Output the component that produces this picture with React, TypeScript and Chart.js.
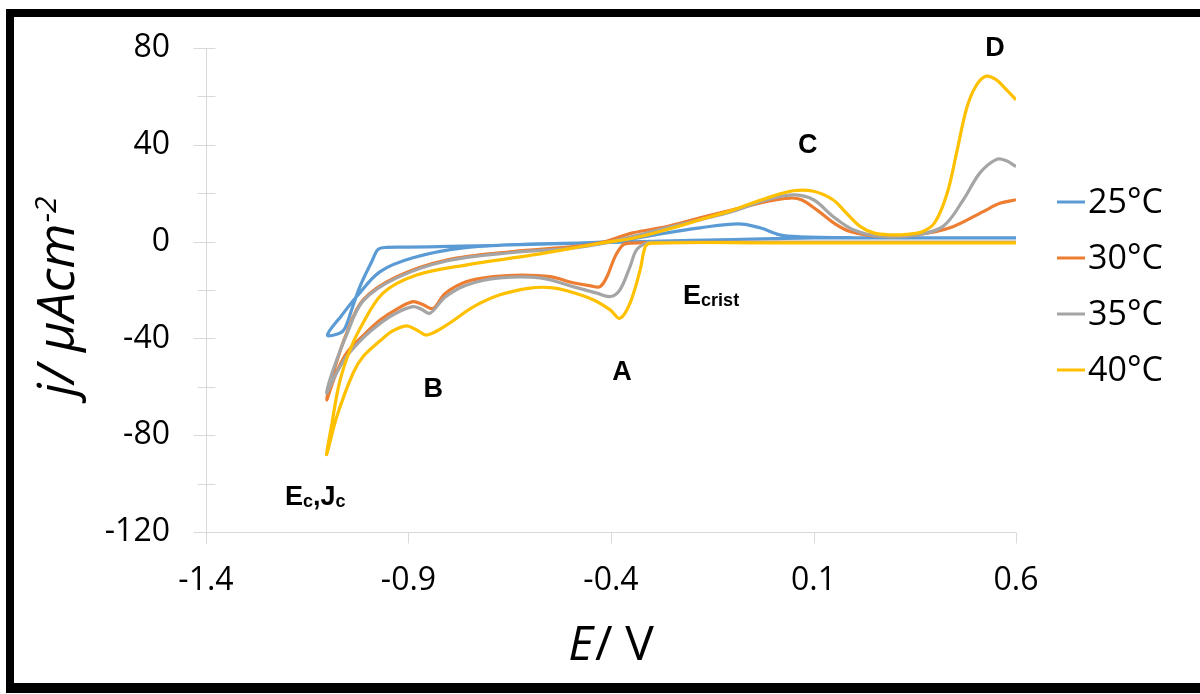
import React, { useEffect, useRef } from "react";
import { Chart, registerables } from "chart.js";

Chart.register(...registerables);

const X_MIN = -1.4;
const X_MAX = 0.6;
const Y_MIN = -120;
const Y_MAX = 80;
const X_TICKS = [-1.4, -0.9, -0.4, 0.1, 0.6];
const Y_TICKS = [-120, -80, -40, 0, 40, 80];
const Y_MINOR_TICKS = [-100, -60, -20, 20, 60];

const SERIES_LABELS = ["25°C", "30°C", "35°C", "40°C"];
const SERIES_COLORS = ["#5B9BD5", "#ED7D31", "#A5A5A5", "#FFC000"];

// 25°C
const E_25 = [0.6, 0.3, 0.1, 0.0, -0.2, -0.4, -0.6, -0.8, -0.9, -0.955, -0.975, -0.99, -1.02, -1.04, -1.057, -1.07, -1.1, -1.065, -1.028, -0.97, -0.889, -0.765, -0.6, -0.4, -0.262, -0.18, -0.086, -0.032, 0.017, 0.067, 0.2, 0.4, 0.6];
const J_25 = [1.5, 1.5, 1.5, 1.2, 0.5, -0.3, -1.2, -2.0, -2.3, -2.4, -3.2, -8, -18.6, -28, -35.8, -37.9, -38.6, -30.5, -22.7, -12.4, -6.7, -2.6, -1.0, 0.0, 3.6, 5.7, 7.3, 5.7, 2.8, 2.0, 1.6, 1.5, 1.5];

// 30°C
const E_30 = [0.6, 0.3, 0.0, -0.3, -0.35, -0.37, -0.39, -0.41, -0.427, -0.45, -0.494, -0.55, -0.62, -0.69, -0.756, -0.81, -0.839, -0.865, -0.889, -0.93, -0.97, -1.01, -1.053, -1.08, -1.102, -1.086, -1.053, -1.012, -0.929, -0.806, -0.642, -0.5, -0.427, -0.346, -0.262, -0.18, -0.1, -0.015, 0.042, 0.07, 0.109, 0.15, 0.19, 0.272, 0.355, 0.437, 0.519, 0.56, 0.6];
const J_30 = [-0.3, -0.3, -0.3, -0.4, -0.6, -1.3, -6.2, -14.5, -18.6, -18.3, -17, -14.5, -13.8, -14.5, -16.5, -21.5, -27.6, -26, -24.8, -28, -32.4, -38.5, -46.1, -55, -65.4, -54.4, -37.9, -24.1, -14.5, -7.6, -4.1, -2.2, -0.5, 3.6, 6.2, 9.8, 13.1, 16.6, 18, 17.3, 13, 7.7, 4.2, 2.1, 2.8, 5.7, 12.4, 15.8, 17.3];

// 35°C
const E_35 = [0.6, 0.3, 0.0, -0.3, -0.312, -0.337, -0.353, -0.378, -0.402, -0.435, -0.494, -0.575, -0.674, -0.756, -0.81, -0.847, -0.868, -0.889, -0.93, -0.97, -1.01, -1.053, -1.08, -1.102, -1.086, -1.053, -1.012, -0.929, -0.806, -0.642, -0.5, -0.427, -0.346, -0.262, -0.18, -0.1, -0.015, 0.05, 0.1, 0.148, 0.198, 0.27, 0.355, 0.42, 0.47, 0.511, 0.552, 0.575, 0.6];
const J_35 = [-0.3, -0.3, -0.3, -0.3, -0.5, -3.4, -10.3, -19.9, -22.7, -21.3, -18.6, -15, -15, -17.9, -23, -29.6, -28, -26.9, -29.5, -33.8, -39.5, -47.5, -55, -62.6, -53, -38.5, -24.5, -15, -8, -4.5, -2.8, -1.0, 2.1, 5.7, 9, 12.4, 17.3, 19.3, 17.3, 10.4, 4.9, 2.1, 2.8, 6.3, 17.3, 28.4, 34, 33.5, 31];

// 40°C
const E_40 = [0.6, 0.3, 0.0, -0.3, -0.315, -0.328, -0.353, -0.378, -0.402, -0.444, -0.509, -0.55, -0.6, -0.674, -0.74, -0.806, -0.855, -0.88, -0.905, -0.94, -0.97, -1.012, -1.037, -1.077, -1.102, -1.09, -1.07, -1.045, -1.02, -0.963, -0.88, -0.756, -0.593, -0.427, -0.346, -0.262, -0.18, -0.1, -0.015, 0.05, 0.1, 0.148, 0.18, 0.215, 0.25, 0.289, 0.33, 0.37, 0.4, 0.43, 0.455, 0.478, 0.5, 0.525, 0.55, 0.575, 0.6];
const J_40 = [-0.5, -0.5, -0.5, -0.6, -2, -11.7, -25.4, -31.7, -28.2, -24, -20.3, -19, -19.2, -22, -27, -34.5, -38.6, -36.5, -34.8, -37, -41, -47.5, -54.4, -72.3, -88, -76, -58, -45, -36, -21.3, -13.8, -9.6, -5.5, -0.7, 1.4, 5, 9, 13, 18, 21, 20.8, 17.3, 12, 6.3, 3.5, 2.8, 3, 4.2, 8, 20, 38, 55, 64, 68.3, 67, 63, 58.6];

const SERIES_E = [E_25, E_30, E_35, E_40];
const SERIES_J = [J_25, J_30, J_35, J_40];

type Part = { t: string; sub?: boolean };
const ANNOTATIONS: { parts: Part[]; x: number; y: number; align: "center" | "left" }[] = [
  { parts: [{ t: "D" }], x: 0.548, y: 76.8, align: "center" },
  { parts: [{ t: "C" }], x: 0.086, y: 36.7, align: "center" },
  { parts: [{ t: "A" }], x: -0.373, y: -57.2, align: "center" },
  { parts: [{ t: "B" }], x: -0.839, y: -64.2, align: "center" },
  { parts: [{ t: "E" }, { t: "crist", sub: true }], x: -0.222, y: -25.7, align: "left" },
  { parts: [{ t: "E" }, { t: "c", sub: true }, { t: "," }, { t: "J" }, { t: "c", sub: true }], x: -1.205, y: -108.9, align: "left" },
];

const AXIS_COLOR = "#d9d9d9";
const TEXT_COLOR = "#000000";

const overlayPlugin = {
  id: "overlay",
  beforeDatasetsDraw(chart: any) {
    const { ctx, chartArea, scales } = chart;
    const xs = scales.x;
    const ys = scales.y;
    ctx.save();
    ctx.strokeStyle = AXIS_COLOR;
    ctx.lineWidth = 1;
    const xl = Math.round(chartArea.left) + 0.5;
    const yb = Math.round(chartArea.bottom) + 0.5;
    ctx.beginPath();
    ctx.moveTo(xl, chartArea.top);
    ctx.lineTo(xl, yb + 11);
    ctx.moveTo(xl, yb);
    ctx.lineTo(chartArea.right, yb);
    Y_TICKS.forEach((v) => {
      const py = Math.round(ys.getPixelForValue(v)) + 0.5;
      ctx.moveTo(xl - 13, py);
      ctx.lineTo(xl + 9, py);
    });
    Y_MINOR_TICKS.forEach((v) => {
      const py = Math.round(ys.getPixelForValue(v)) + 0.5;
      ctx.moveTo(xl - 9, py);
      ctx.lineTo(xl + 9, py);
    });
    X_TICKS.forEach((v) => {
      const px = Math.round(xs.getPixelForValue(v)) + 0.5;
      ctx.moveTo(px, yb);
      ctx.lineTo(px, yb + 11);
    });
    ctx.stroke();
    ctx.restore();
  },
  afterDraw(chart: any) {
    const { ctx, scales } = chart;
    const xs = scales.x;
    const ys = scales.y;
    ctx.save();
    // annotations
    const big = "bold 27px 'Liberation Sans', Arial, sans-serif";
    const small = "bold 18px 'Liberation Sans', Arial, sans-serif";
    ctx.fillStyle = TEXT_COLOR;
    ctx.textBaseline = "alphabetic";
    ctx.textAlign = "left";
    ANNOTATIONS.forEach((a) => {
      let w = 0;
      a.parts.forEach((p) => {
        ctx.font = p.sub ? small : big;
        w += ctx.measureText(p.t).width;
      });
      let px = xs.getPixelForValue(a.x);
      const py = ys.getPixelForValue(a.y);
      if (a.align === "center") px -= w / 2;
      a.parts.forEach((p) => {
        ctx.font = p.sub ? small : big;
        ctx.fillText(p.t, px, py + (p.sub ? 2 : 0));
        px += ctx.measureText(p.t).width;
      });
    });

    // legend
    ctx.font = "34px 'Open Sans', sans-serif";
    ctx.textBaseline = "middle";
    SERIES_LABELS.forEach((lab, i) => {
      const cy = 202 + i * 56;
      ctx.strokeStyle = SERIES_COLORS[i];
      ctx.lineWidth = 3;
      ctx.beginPath();
      ctx.moveTo(1057, cy);
      ctx.lineTo(1085, cy);
      ctx.stroke();
      ctx.fillStyle = TEXT_COLOR;
      ctx.fillText(lab, 1088, cy + 1);
    });

    // x title: E/ V
    ctx.textBaseline = "alphabetic";
    const xf1 = "italic 48px 'Open Sans', sans-serif";
    const xf2 = "48px 'Open Sans', sans-serif";
    ctx.font = xf1;
    const wE = ctx.measureText("E").width;
    ctx.font = xf2;
    const wR = ctx.measureText("/ V").width;
    const sx = 610 - (wE + wR) / 2;
    ctx.font = xf1;
    ctx.fillText("E", sx, 660);
    ctx.font = xf2;
    ctx.fillText("/ V", sx + wE + 2, 660);

    // y title: j/ μAcm^-2
    ctx.translate(74, 297);
    ctx.rotate(-Math.PI / 2);
    const yf = "italic 52px 'Open Sans', sans-serif";
    const yfs = "italic 30px 'Open Sans', sans-serif";
    ctx.font = yf;
    const main = "j/ μAcm";
    const wm = ctx.measureText(main).width;
    ctx.font = yfs;
    const ws = ctx.measureText("-2").width;
    const start = -(wm + ws) / 2;
    ctx.font = yf;
    ctx.fillText(main, start, 0);
    ctx.font = yfs;
    ctx.fillText("-2", start + wm + 1, -18);
    ctx.restore();
  },
};

export default function App() {
  const ref = useRef<HTMLCanvasElement>(null);
  useEffect(() => {
    const datasets = SERIES_LABELS.map((label, i) => ({
      label,
      data: SERIES_E[i].map((e, k) => ({ x: e, y: SERIES_J[i][k] })),
      borderColor: SERIES_COLORS[i],
      backgroundColor: SERIES_COLORS[i],
      borderWidth: 3.2,
      pointRadius: 0,
      showLine: true,
      fill: false,
      tension: 0.35,
      order: SERIES_LABELS.length - i,
    }));
    const tickFont = { family: "'Open Sans', sans-serif", size: 32 };
    const chart = new Chart(ref.current as HTMLCanvasElement, {
      type: "scatter",
      data: { datasets },
      options: {
        animation: false,
        responsive: false,
        devicePixelRatio: 1,
        layout: { padding: { left: 0, top: 48, right: 184, bottom: 0 } },
        plugins: { legend: { display: false }, tooltip: { enabled: false } },
        scales: {
          x: {
            type: "linear",
            min: X_MIN,
            max: X_MAX,
            afterBuildTicks: (s: any) => {
              s.ticks = X_TICKS.map((v) => ({ value: v }));
            },
            afterFit: (s: any) => {
              s.height = 162;
              s.paddingLeft = 0;
              s.paddingRight = 0;
            },
            ticks: {
              callback: (v: any) => Number(v).toFixed(1),
              font: tickFont,
              color: TEXT_COLOR,
              padding: 30,
              maxRotation: 0,
              autoSkip: false,
            },
            grid: { display: false, drawTicks: false },
            border: { display: false },
          },
          y: {
            type: "linear",
            min: Y_MIN,
            max: Y_MAX,
            afterBuildTicks: (s: any) => {
              s.ticks = Y_TICKS.map((v) => ({ value: v }));
            },
            afterFit: (s: any) => {
              s.width = 206;
              s.paddingTop = 0;
              s.paddingBottom = 0;
            },
            ticks: {
              callback: (v: any) => String(v),
              font: tickFont,
              color: TEXT_COLOR,
              padding: 36,
              autoSkip: false,
            },
            grid: { display: false, drawTicks: false },
            border: { display: false },
          },
        },
      } as any,
      plugins: [overlayPlugin],
    });
    return () => chart.destroy();
  }, []);
  return (
    <div style={{ position: "fixed", left: 0, top: 0, width: 1200, height: 694, background: "#fff", overflow: "hidden" }}>
      <canvas ref={ref} width={1200} height={694} style={{ position: "absolute", left: 0, top: 0, width: 1200, height: 694 }} />
      <div
        style={{
          position: "absolute",
          left: 6,
          top: 9,
          width: 1300,
          height: 666,
          borderTop: "8px solid #000",
          borderLeft: "8px solid #000",
          borderBottom: "10px solid #000",
          pointerEvents: "none",
        }}
      />
    </div>
  );
}
